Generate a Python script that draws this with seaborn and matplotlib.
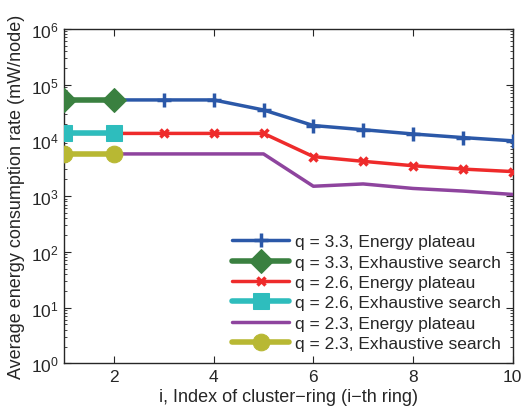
import seaborn as sns
import pandas as pd
import matplotlib.pyplot as plt
from matplotlib.ticker import LogLocator, NullFormatter

sns.set_style("ticks")
plt.rcParams['font.family'] = ['Liberation Sans', 'DejaVu Sans']

ring = [1, 2, 3, 4, 5, 6, 7, 8, 9, 10]
ring_ex = [1, 2]
plateau_33 = [53000, 53000, 53000, 53000, 35000, 18400, 15500, 13000, 11200, 9800]
plateau_26 = [13300, 13300, 13300, 13300, 13300, 5100, 4200, 3500, 3050, 2750]
plateau_23 = [5700, 5700, 5700, 5700, 5700, 1500, 1650, 1370, 1230, 1070]
exhaust_33 = [53000, 53000]
exhaust_26 = [13300, 13300]
exhaust_23 = [5700, 5700]

series = [
    ("q = 3.3, Energy plateau", ring, plateau_33, "#2b58a8", "+", 10, 2.5),
    ("q = 3.3, Exhaustive search", ring_ex, exhaust_33, "#3a8040", "D", 12, 4),
    ("q = 2.6, Energy plateau", ring, plateau_26, "#ee2b2b", "x", 5.5, 2.5),
    ("q = 2.6, Exhaustive search", ring_ex, exhaust_26, "#2ebdbd", "s", 11, 4),
    ("q = 2.3, Energy plateau", ring, plateau_23, "#8e449e", "", 0, 2.5),
    ("q = 2.3, Exhaustive search", ring_ex, exhaust_23, "#b8b833", "o", 12, 4),
]

fig, ax = plt.subplots(figsize=(5.23, 4.14), dpi=100)
for i, (name, xs, ys, col, mk, ms, lw) in enumerate(series):
    df = pd.DataFrame({"i": xs, "p": ys})
    kw = dict(marker=mk, markersize=ms, markeredgecolor=col) if mk else {}
    if mk in ("+", "x"):
        kw["markeredgewidth"] = 2.5
    sns.lineplot(data=df, x="i", y="p", ax=ax, color=col, linewidth=lw,
                 label=name, zorder=3 + (i % 2) * 2, **kw)

ax.set_yscale("log")
ax.set_xlim(1, 10)
ax.set_ylim(1, 1e6)
ax.set_xticks([2, 4, 6, 8, 10])
ax.yaxis.set_major_locator(LogLocator(base=10, numticks=10))
ax.yaxis.set_minor_locator(LogLocator(base=10, subs=range(2, 10), numticks=10))
ax.yaxis.set_minor_formatter(NullFormatter())
ax.tick_params(direction="in", which="both", top=True, right=True, labelsize=12.5)
ax.tick_params(which="major", length=5, pad=4)
ax.tick_params(which="minor", length=2.5)
for s in ax.spines.values():
    s.set_linewidth(1)
ax.set_xlabel("i, Index of cluster\u2212ring (i\u2212th ring)", fontsize=13, labelpad=3)
ax.set_ylabel("Average energy consumption rate (mW/node)", fontsize=13)
ax.legend(loc="lower right", frameon=False, fontsize=12.5, handlelength=3.3,
          labelspacing=0.3, handletextpad=0.3, borderaxespad=0.3)
plt.subplots_adjust(left=0.123, right=0.98, top=0.928, bottom=0.12)
plt.savefig("out.png")
